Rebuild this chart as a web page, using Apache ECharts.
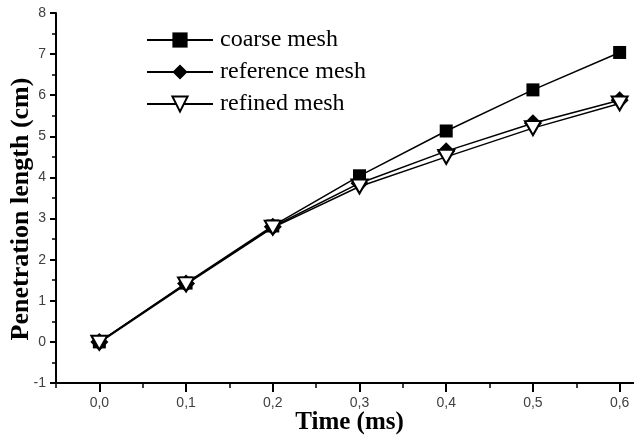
<!DOCTYPE html>
<html>
<head>
<meta charset="utf-8">
<script src="https://cdn.jsdelivr.net/npm/echarts@6/dist/echarts.min.js"></script>
<style>html,body{margin:0;padding:0;background:#fff;}#c{width:634px;height:437px;}</style>
</head>
<body>
<div id="c"></div>
<script>
const times = [0.0, 0.1, 0.2, 0.3, 0.4, 0.5, 0.6];
const coarse = [0.0, 1.43, 2.82, 4.04, 5.13, 6.13, 7.04];
const reference = [0.0, 1.42, 2.80, 3.86, 4.64, 5.32, 5.88];
const refined = [-0.02, 1.40, 2.78, 3.78, 4.50, 5.20, 5.80];
const seriesNames = ['coarse mesh', 'reference mesh', 'refined mesh'];
const xMajorTicks = [0.0, 0.1, 0.2, 0.3, 0.4, 0.5, 0.6];

const pairs = arr => times.map((t, i) => [t, arr[i]]);
const isMajor = v => xMajorTicks.some(m => Math.abs(m - v) < 1e-6);
const chart = echarts.init(document.getElementById('c'), null, {renderer: 'canvas'});
const serif = '"Liberation Serif", "Times New Roman", serif';
const sans = '"Liberation Sans", Arial, sans-serif';
const lineStyle = {color: '#000', width: 1.5};
chart.setOption({
  animation: false,
  backgroundColor: '#fff',
  grid: {left: 56, top: 13, width: 607, height: 370, outerBoundsMode: 'none', containLabel: false},
  legend: {
    orient: 'vertical', left: 141, top: 23,
    itemWidth: 66, itemHeight: 19, itemGap: 8,
    textStyle: {fontFamily: serif, fontSize: 24, color: '#000', padding: [0, 0, 0, 2]},
    data: seriesNames
  },
  xAxis: [{
    type: 'value', min: -0.05, max: 0.65, interval: 0.05, position: 'bottom',
    name: 'Time (ms)', nameLocation: 'middle', nameGap: 27, nameMoveOverlap: false,
    nameTextStyle: {fontFamily: serif, fontWeight: 'bold', fontSize: 25, color: '#000', padding: [0, 20, 0, 0]},
    axisLine: {show: true, onZero: false, lineStyle: {color: '#000', width: 2}},
    axisTick: {show: true, length: 5, lineStyle: {color: '#000', width: 1.5}},
    axisLabel: {margin: 13, fontFamily: sans, fontSize: 14, color: '#404040', showMinLabel: true, showMaxLabel: true,
      hideOverlap: false, interval: 0,
      formatter: v => isMajor(v) ? v.toFixed(1).replace('.', ',') : ''},
    splitLine: {show: false}
  }, {
    type: 'value', min: -0.05, max: 0.65, position: 'top', offset: -370,
    axisLine: {show: false, onZero: false},
    axisTick: {show: true, inside: true, customValues: xMajorTicks, length: 9, lineStyle: {color: '#000', width: 2}},
    axisLabel: {show: false},
    splitLine: {show: false}
  }],
  yAxis: {
    type: 'value', min: -1, max: 8, interval: 1,
    name: 'Penetration length (cm)', nameLocation: 'middle', nameGap: 22, nameMoveOverlap: false,
    nameTextStyle: {fontFamily: serif, fontWeight: 'bold', fontSize: 26, color: '#000', padding: [0, 22, 0, 0]},
    axisLine: {show: true, onZero: false, lineStyle: {color: '#000', width: 2}},
    axisTick: {show: true, length: 6, lineStyle: {color: '#000', width: 2}},
    minorTick: {show: true, splitNumber: 2, length: 4, lineStyle: {color: '#000', width: 1.5}},
    axisLabel: {margin: 10, fontFamily: sans, fontSize: 14, color: '#404040'},
    splitLine: {show: false}
  },
  series: [{
    name: seriesNames[0], type: 'line', data: pairs(coarse),
    symbol: 'rect', symbolSize: 13, lineStyle,
    itemStyle: {color: '#000'}
  }, {
    name: seriesNames[1], type: 'line', data: pairs(reference),
    symbol: 'diamond', symbolSize: 18, lineStyle,
    itemStyle: {color: '#000'}
  }, {
    name: seriesNames[2], type: 'line', data: pairs(refined),
    symbol: 'triangle', symbolRotate: 180, symbolSize: [16, 14], lineStyle,
    itemStyle: {color: '#fff', borderColor: '#000', borderWidth: 2}
  }]
});
</script>
</body>
</html>
